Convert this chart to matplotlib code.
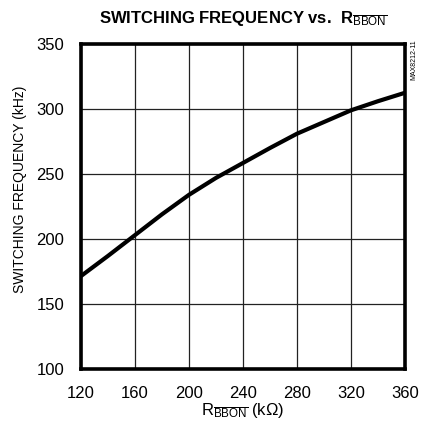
import matplotlib
matplotlib.use("Agg")
import matplotlib.pyplot as plt

plt.rcParams["font.family"] = ["Liberation Sans", "DejaVu Sans"]
plt.rcParams["mathtext.fontset"] = "custom"
plt.rcParams["mathtext.rm"] = "Liberation Sans"

# values
r_bbon = [120, 140, 160, 180, 200, 220, 240, 260, 280, 300, 320, 340, 360]
freq_khz = [171.5, 187, 203, 219, 234, 247, 258.5, 270, 281, 290, 299, 306, 312.5]

x_ticks = [120, 160, 200, 240, 280, 320, 360]
y_ticks = [100, 150, 200, 250, 300, 350]

W, H = 422, 430
fig = plt.figure(figsize=(W / 100, H / 100), dpi=100)
ax = fig.add_axes([81 / W, 1 - 369 / H, (405 - 81) / W, (369 - 44) / H])

ax.plot(r_bbon, freq_khz, color="black", lw=3.0, solid_capstyle="butt", zorder=3)

ax.set_xlim(120, 360)
ax.set_ylim(100, 350)
ax.set_xticks(x_ticks)
ax.set_yticks(y_ticks)
ax.grid(True, color="#222222", lw=0.9)
ax.tick_params(length=0, pad=12, labelsize=12)
for s in ax.spines.values():
    s.set_linewidth(2.6)
    s.set_zorder(4)

fig.text(243 / W, 1 - 18 / H, r"SWITCHING FREQUENCY vs.  R$_{\overline{\mathrm{BBON}}}$",
         ha="center", va="center", fontsize=12, fontweight="bold")
fig.text(20 / W, 1 - 189 / H, "SWITCHING FREQUENCY (kHz)", rotation=90,
         ha="center", va="center", fontsize=10)
fig.text(243 / W, 1 - 410 / H, r"R$_{\overline{\mathrm{BBON}}}$ (k$\Omega$)",
         ha="center", va="center", fontsize=12)
fig.text(414 / W, 1 - 60 / H, "MAX8212-11", rotation=90,
         ha="center", va="center", fontsize=5)

fig.savefig("out.png", dpi=100)
